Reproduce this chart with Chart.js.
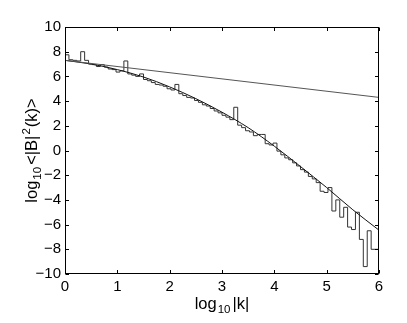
<!DOCTYPE html>
<html>
<head>
<meta charset="utf-8">
<script src="https://cdn.jsdelivr.net/npm/chart.js@4"></script>
<style>
html,body{margin:0;padding:0;background:#fff;}
#wrap{width:407px;height:323px;}
</style>
</head>
<body>
<div id="wrap"><canvas id="c" width="407" height="323"></canvas></div>
<script>
// ---- data ----
const binWidth = 0.075;
const histValues = [
  7.35, 7.75, 7.35, 7.3, 7.25, 8.0, 7.3, 7.0, 6.95, 6.8,
  6.95, 6.75, 6.6, 6.55, 6.35, 6.45, 7.25, 6.2, 6.1, 6.0,
  6.2, 5.75, 5.65, 5.5, 5.35, 5.3, 5.2, 5.0, 4.9, 5.35,
  4.6, 4.45, 4.3, 4.25, 4.05, 3.9, 3.7, 3.6, 3.4, 3.2,
  3.05, 2.85, 2.7, 2.5, 3.5, 2.05, 1.85, 1.6, 1.5, 1.2,
  1.3, 1.3, 0.55, 0.45, 0.6, -0.05, -0.35, -0.6, -0.75, -1.0,
  -1.25, -1.55, -1.75, -2.1, -2.3, -2.6, -3.3, -3.4, -3.0, -4.9,
  -4.0, -5.4, -4.6, -6.2, -6.4, -5.0, -7.2, -9.4, -6.5, -8.0
];
const curveX = [0, 0.5, 1, 1.5, 2, 2.5, 3, 3.5, 4, 4.5, 5, 5.5, 6];
const curveY = [7.3, 7.0, 6.55, 5.95, 5.15, 4.2, 3.1, 1.85, 0.35, -1.3, -3.0, -4.8, -6.45];
const lineX = [0, 6];
const lineY = [7.3, 4.3];
const xTicks = [0, 1, 2, 3, 4, 5, 6];
const yTicks = [-10, -8, -6, -4, -2, 0, 2, 4, 6, 8, 10];

// ---- build ----
const histPts = histValues.map((v, i) => ({x: i * binWidth, y: v}));
histPts.push({x: histValues.length * binWidth, y: histValues[histValues.length - 1]});
const curvePts = curveX.map((x, i) => ({x, y: curveY[i]}));
const linePts = lineX.map((x, i) => ({x, y: lineY[i]}));

const FONT = "'Liberation Sans', Arial, Helvetica, sans-serif";

const framePlugin = {
  id: 'frame',
  afterDatasetsDraw(chart) {
    const {ctx, chartArea: a, scales} = chart;
    ctx.save();
    ctx.strokeStyle = '#000';
    ctx.lineWidth = 1;
    const L = Math.round(a.left) + 0.5, R = Math.round(a.right) - 0.5;
    const T = Math.round(a.top) + 0.5, B = Math.round(a.bottom) - 0.5;
    ctx.strokeRect(L, T, R - L, B - T);
    const tl = 3.5;
    ctx.beginPath();
    xTicks.forEach(v => {
      const px = Math.round(scales.x.getPixelForValue(v)) + 0.5;
      ctx.moveTo(px, B); ctx.lineTo(px, B - tl);
      ctx.moveTo(px, T); ctx.lineTo(px, T + tl);
    });
    yTicks.forEach(v => {
      const py = Math.round(scales.y.getPixelForValue(v)) + 0.5;
      ctx.moveTo(L, py); ctx.lineTo(L + tl, py);
      ctx.moveTo(R, py); ctx.lineTo(R - tl, py);
    });
    ctx.stroke();

    // axis titles with sub/superscripts
    const big = "16.5px " + FONT, small = "11.5px " + FONT;
    function drawRich(parts, cx, cy, rot) {
      ctx.save();
      ctx.translate(cx, cy);
      if (rot) ctx.rotate(rot);
      let w = 0;
      parts.forEach(p => { ctx.font = p.s ? small : big; w += ctx.measureText(p.t).width + (p.g || 0); });
      let x = -w / 2;
      ctx.fillStyle = '#000';
      ctx.textBaseline = 'alphabetic';
      ctx.textAlign = 'left';
      parts.forEach(p => {
        ctx.font = p.s ? small : big;
        const dy = p.s === 'sub' ? 4 : (p.s === 'sup' ? -7 : 0);
        ctx.fillText(p.t, x, dy);
        x += ctx.measureText(p.t).width + (p.g || 0);
      });
      ctx.restore();
    }
    const cxm = (a.left + a.right) / 2;
    drawRich([{t: 'log', g: 1}, {t: '10', s: 'sub', g: 2}, {t: '|k|'}], cxm, 309, 0);
    const cym = (a.top + a.bottom) / 2;
    drawRich([{t: 'log', g: 1}, {t: '10', s: 'sub', g: 2}, {t: '<|B|', g: 1}, {t: '2', s: 'sup', g: 1}, {t: '(k)>'}], 37, cym, -Math.PI / 2);
    ctx.restore();
  }
};

new Chart(document.getElementById('c'), {
  type: 'scatter',
  data: {
    datasets: [
      {data: linePts, showLine: true, borderColor: '#555', borderWidth: 1, pointRadius: 0},
      {data: curvePts, showLine: true, borderColor: '#111', borderWidth: 1, pointRadius: 0, tension: 0.4, cubicInterpolationMode: 'monotone'},
      {data: histPts, showLine: true, stepped: 'after', borderColor: '#333', borderWidth: 1, pointRadius: 0}
    ]
  },
  options: {
    responsive: false,
    animation: false,
    devicePixelRatio: 1,
    layout: {padding: {top: 27, right: 28, left: 0, bottom: 0}},
    plugins: {legend: {display: false}, tooltip: {enabled: false}},
    scales: {
      x: {
        type: 'linear', min: 0, max: 6,
        afterFit(s) { s.height = 49; },
        afterBuildTicks(s) { s.ticks = xTicks.map(v => ({value: v})); },
        grid: {display: false, drawTicks: false},
        border: {display: false},
        ticks: {font: {family: FONT, size: 15}, color: '#000', padding: 4, maxRotation: 0, autoSkip: false}
      },
      y: {
        type: 'linear', min: -10, max: 10,
        afterFit(s) { s.width = 65; },
        afterBuildTicks(s) { s.ticks = yTicks.map(v => ({value: v})); },
        grid: {display: false, drawTicks: false},
        border: {display: false},
        ticks: {font: {family: FONT, size: 15}, color: '#000', padding: 4, autoSkip: false,
          callback: v => (v < 0 ? '\u2212' + Math.abs(v) : String(v))}
      }
    }
  },
  plugins: [framePlugin]
});
</script>
</body>
</html>
